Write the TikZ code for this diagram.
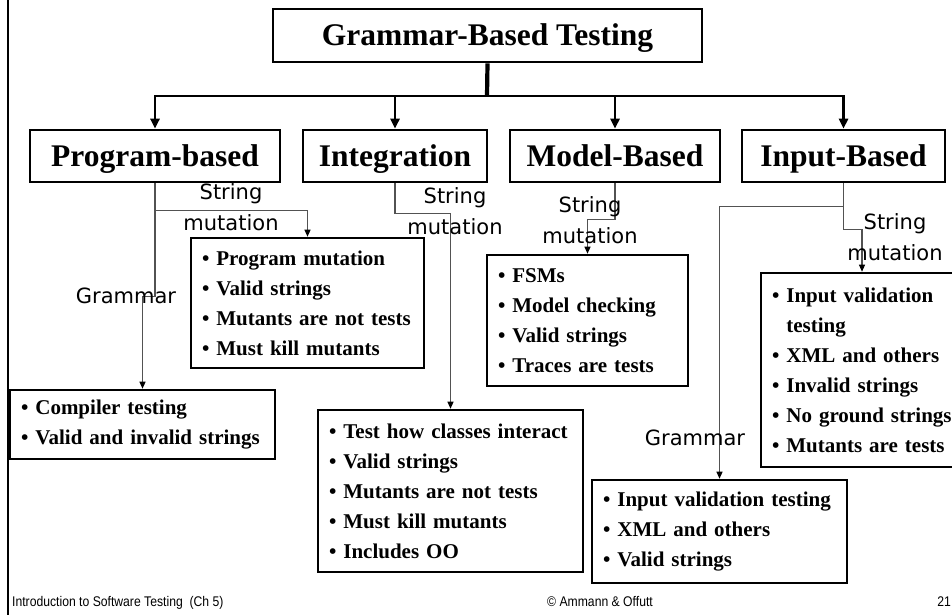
\documentclass[tikz,border=0pt]{standalone}
\usepackage{fontspec}
\setmainfont{Liberation Serif}
\newfontfamily\labfont{DejaVu Sans}
\newfontfamily\footfont[FakeStretch=0.87]{Liberation Sans}
\usetikzlibrary{arrows.meta}
\begin{document}
\begin{tikzpicture}[x=1pt,y=-1pt,
  hbox/.style={draw, line width=2.6pt, inner sep=0pt, text height=20.5pt, text depth=0pt,
    font=\fontsize{31.5}{36}\selectfont\bfseries},
  lbox/.style={draw, line width=2.6pt, inner xsep=10pt, inner ysep=0pt, align=left,
    font=\fontsize{21}{30}\selectfont\bfseries},
  lab/.style={inner sep=0pt, align=center, font=\labfont\fontsize{21}{31}\selectfont},
  foot/.style={inner sep=0pt, font=\footfont\fontsize{14}{16}\selectfont},
  stem/.style={line width=4.2pt},
  toparr/.style={line width=2.6pt, -{Triangle[length=10pt,width=9pt]}},
  tarr/.style={draw=black!68, line width=1.1pt, -{Triangle[length=7pt,width=6pt,color=black]}}
]
\useasboundingbox (0,0) rectangle (952,615);
\fill[white] (0,0) rectangle (952,615);
\draw[line width=1.6pt] (8,0) -- (8,615);

% top levels
\node[hbox, minimum width=429pt, minimum height=53pt] (top) at (487.5,35.5) {Grammar-Based Testing};
\node[hbox, minimum width=250pt, minimum height=52pt] (prog) at (155,156) {Program-based};
\node[hbox, minimum width=184pt, minimum height=52pt] (integ) at (395,156) {Integration};
\node[hbox, minimum width=210pt, minimum height=52pt] (model) at (615,156) {Model-Based};
\node[hbox, minimum width=203pt, minimum height=52pt] (input) at (843.5,156) {Input-Based};

% leaf boxes
\node[lbox, minimum width=233pt, minimum height=130pt, text width=211pt] (pm) at (307.5,303)
  {• Program mutation\\• Valid strings\\• Mutants are not tests\\• Must kill mutants};
\node[lbox, minimum width=265pt, minimum height=69pt, text width=243pt] (comp) at (142.5,424.5)
  {• Compiler testing\\• Valid and invalid strings};
\node[lbox, minimum width=265pt, minimum height=162pt, text width=243pt] (ib) at (450.5,491)
  {• Test how classes interact\\• Valid strings\\• Mutants are not tests\\• Must kill mutants\\• Includes OO};
\node[lbox, minimum width=201pt, minimum height=131pt, text width=179pt] (fsm) at (587.5,320.5)
  {• FSMs\\• Model checking\\• Valid strings\\• Traces are tests};
\node[lbox, minimum width=202pt, minimum height=194pt, text width=180pt] (rb) at (862,370)
  {• Input validation\\\phantom{• }testing\\• XML and others\\• Invalid strings\\• No ground strings\\• Mutants are tests};
\node[lbox, minimum width=255pt, minimum height=103pt, text width=233pt] (bi) at (719.5,531.5)
  {• Input validation testing\\• XML and others\\• Valid strings};

% top connectors
\coordinate (hub) at (487,96);
\draw[stem] (top.south) -- (hub);
\draw[toparr] (hub) -| (prog.north);
\draw[toparr] (hub) -| (integ.north);
\draw[toparr] (hub) -| (model.north);
\draw[toparr] (hub) -| (input.north);

% thin connectors
\draw[tarr] (prog.south) -- ++(0,27) -| (pm.north);
\draw[tarr] (prog.south) -- ++(0,113) -| (comp.north);
\draw[tarr] (integ.south) -- ++(0,30) -| (ib.north);
\draw[tarr] (model.south) -- ++(0,36) -| (fsm.north);
\draw[tarr] (input.south) -- ++(0,23) -| (bi.north);
\draw[tarr] (input.south) -- ++(0,46) -| (rb.north);

% labels
\node[lab] (l1) at (231,207) {String\\mutation};
\node[lab] (l2) at (455,211.5) {String\\mutation};
\node[lab] (l3) at (590,220) {String\\mutation};
\node[lab] (l4) at (895,237.5) {String\\mutation};
\node[lab] (g1) at (126,296) {Grammar};
\node[lab] (g2) at (695,438) {Grammar};

% footer
\node[foot, anchor=base west] (f1) at (12,606) {Introduction to Software Testing\ \ (Ch 5)};
\node[foot, anchor=base] (f2) at (600,606) {© Ammann \& Offutt};
\node[foot, anchor=base east] (f3) at (951,606) {21};
\end{tikzpicture}
\end{document}
